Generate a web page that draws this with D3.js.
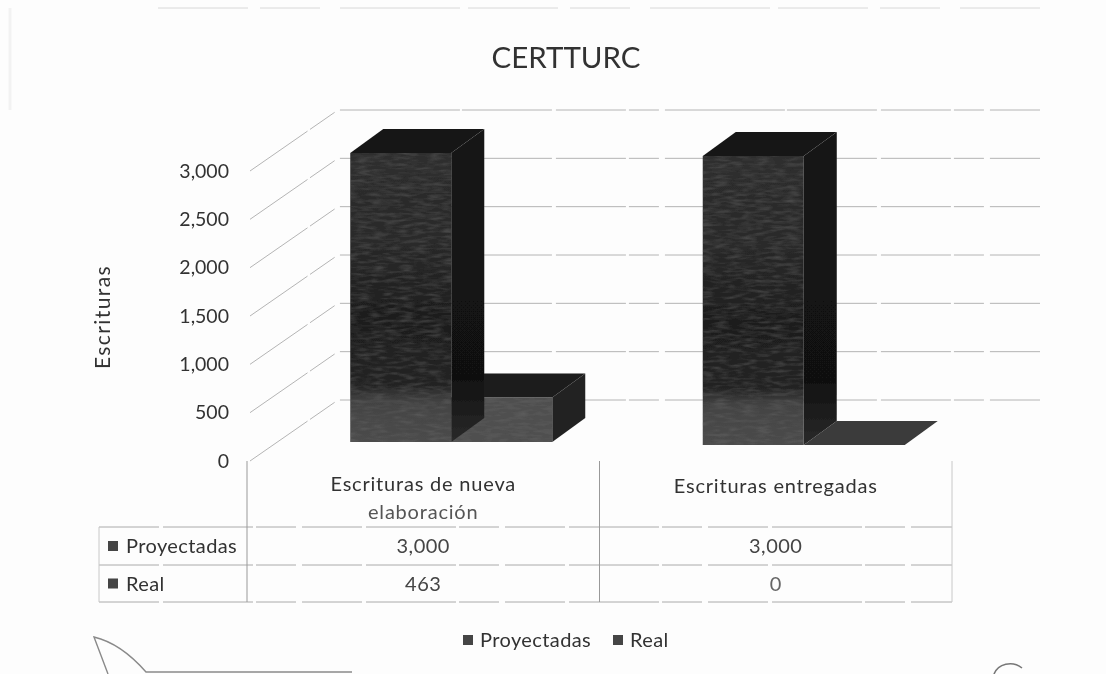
<!DOCTYPE html>
<html>
<head>
<meta charset="utf-8">
<script src="https://cdnjs.cloudflare.com/ajax/libs/d3/7.8.5/d3.min.js"></script>
<style>
body { margin: 0; background: #fdfdfd; }
text { font-family: Lato, "Open Sans", sans-serif; fill: #333; }
</style>
</head>
<body>
<div id="chart"></div>
<script>
const categories = [["Escrituras de nueva", "elaboración"], ["Escrituras entregadas"]];
const series = ["Proyectadas", "Real"];
const proyectadas = [3000, 3000];
const real = [463, 0];
const yTicks = [0, 500, 1000, 1500, 2000, 2500, 3000];

function drawChart() {
    const width = 1106;
    const height = 674;

    const svg = d3.select("#chart")
        .append("svg")
        .attr("width", width)
        .attr("height", height);

    const defs = svg.append("defs");

    // soft scan look
    const blur = defs.append("filter").attr("id", "scan");
    blur.append("feGaussianBlur").attr("stdDeviation", 0.5);

    const grain = defs.append("filter").attr("id", "grain")
        .attr("color-interpolation-filters", "sRGB")
        .attr("x", 0).attr("y", 0).attr("width", 1).attr("height", 1);
    grain.append("feTurbulence")
        .attr("type", "fractalNoise")
        .attr("baseFrequency", "0.07 0.3")
        .attr("numOctaves", 2)
        .attr("seed", 4)
        .attr("result", "n");
    grain.append("feColorMatrix")
        .attr("in", "n")
        .attr("type", "matrix")
        .attr("values", "0 0 0 0 0.42  0 0 0 0 0.42  0 0 0 0 0.42  0.9 0 0 0 -0.36")
        .attr("result", "g");
    grain.append("feComposite")
        .attr("in", "g").attr("in2", "SourceAlpha").attr("operator", "in")
        .attr("result", "gc");
    const merge = grain.append("feMerge");
    merge.append("feMergeNode").attr("in", "SourceGraphic");
    merge.append("feMergeNode").attr("in", "gc");

    const frontGrad = defs.append("linearGradient")
        .attr("id", "frontGrad")
        .attr("x1", 0).attr("y1", 0).attr("x2", 0).attr("y2", 1);
    [[0, "#2e2e2e"], [0.3, "#2a2a2a"], [0.55, "#1e1e1e"], [0.8, "#222"], [0.86, "#434343"], [1, "#4c4c4c"]]
        .forEach(s => frontGrad.append("stop").attr("offset", s[0]).attr("stop-color", s[1]));

    const sideGrad = defs.append("linearGradient")
        .attr("id", "sideGrad")
        .attr("x1", 0).attr("y1", 0).attr("x2", 0).attr("y2", 1);
    [[0, "#141414"], [0.8, "#111"], [1, "#2a2a2a"]]
        .forEach(s => sideGrad.append("stop").attr("offset", s[0]).attr("stop-color", s[1]));

    // Scales
    const y = d3.scaleLinear().domain([0, 3000]).range([461, 171]);
    const x = d3.scaleBand().domain(d3.range(categories.length)).range([247, 952]);
    const barH = d3.scaleLinear().domain([0, 3000]).range([0, 289]);

    const wallDx = 88, wallDy = -61;
    const barDx = 33, barDy = -24;
    const barBase = [442, 445];
    const barW = 101;
    const barShift = 28;

    const plot = svg.append("g").attr("filter", "url(#scan)");

    // Walls and gridlines
    plot.append("g").selectAll("path")
        .data(yTicks)
        .join("path")
        .attr("d", d => {
            const p = d3.path();
            p.moveTo(250, y(d));
            p.lineTo(250 + wallDx, y(d) + wallDy);
            p.lineTo(1040, y(d) + wallDy);
            return p.toString();
        })
        .attr("fill", "none")
        .attr("stroke", "#b4b4b4")
        .attr("stroke-width", 1)
        .attr("stroke-dasharray", "70 3 30 6 120 2 90 4");

    // Axis labels
    plot.append("g").selectAll("text")
        .data(yTicks)
        .join("text")
        .attr("x", 229)
        .attr("y", d => y(d))
        .attr("dy", "0.35em")
        .attr("text-anchor", "end")
        .attr("font-size", 19.5)
        .text(d => d3.format(",")(d));

    plot.append("text")
        .attr("transform", "translate(110,317) rotate(-90)")
        .attr("text-anchor", "middle")
        .attr("font-size", 21)
        .style("letter-spacing", "1.4px")
        .text("Escrituras");

    plot.append("text")
        .attr("x", 566)
        .attr("y", 68)
        .attr("text-anchor", "middle")
        .attr("font-size", 29.5)
        .text("CERTTURC");

    // Bars
    const bars = plot.append("g");

    function cuboid(parent, left, base, h, front, side, top) {
        const poly = pts => pts.map(p => p.join(",")).join(" ");
        const right = left + barW;
        const tp = base - h;
        parent.append("polygon")
            .attr("points", poly([[right, base], [right + barDx, base + barDy], [right + barDx, tp + barDy], [right, tp]]))
            .attr("fill", side);
        parent.append("polygon")
            .attr("points", poly([[left, tp], [left + barDx, tp + barDy], [right + barDx, tp + barDy], [right, tp]]))
            .attr("fill", top);
        if (h > 0) {
            parent.append("rect")
                .attr("x", left).attr("y", tp)
                .attr("width", barW).attr("height", h)
                .attr("fill", front)
                .attr("filter", "url(#grain)");
        }
    }

    categories.forEach((c, i) => {
        const left = x(i) + x.bandwidth() / 2 + barShift - barW;
        const g = bars.append("g");
        // Real sits to the right of Proyectadas, so it goes first
        cuboid(g, left + barW, barBase[i], barH(real[i]), "#4f4f4f", "#232323", real[i] > 0 ? "#1d1d1d" : "#3a3a3a");
        cuboid(g, left, barBase[i], barH(proyectadas[i]), "url(#frontGrad)", "url(#sideGrad)", "#191919");
    });

    // Data table
    const rowY = [527, 565, 602];
    const colX = [99, x(0), x(1), x(1) + x.bandwidth()];
    const table = plot.append("g");

    table.selectAll("line.h")
        .data(rowY)
        .join("line")
        .attr("class", "h")
        .attr("x1", colX[0]).attr("x2", colX[3])
        .attr("y1", d => d).attr("y2", d => d)
        .attr("stroke", "#aaa")
        .attr("stroke-dasharray", "60 4 90 3 40 6");

    table.selectAll("line.v")
        .data(colX)
        .join("line")
        .attr("class", "v")
        .attr("x1", d => d).attr("x2", d => d)
        .attr("y1", (d, i) => i === 0 ? rowY[0] : 461)
        .attr("y2", rowY[2])
        .attr("stroke", (d, i) => (i === 1 || i === 2) ? "#999" : "#c8c8c8");

    categories.forEach((c, i) => {
        const cx = x(i) + x.bandwidth() / 2;
        c.forEach((line, j) => {
            table.append("text")
                .attr("x", cx)
                .attr("y", (c.length > 1 ? 491 : 493) + j * 28)
                .attr("text-anchor", "middle")
                .attr("font-size", 20)
                .style("letter-spacing", "0.8px")
                .style("fill", j ? "#555" : "#333")
                .text(line);
        });
        [proyectadas, real].forEach((vals, r) => {
            table.append("text")
                .attr("x", cx)
                .attr("y", (rowY[r] + rowY[r + 1]) / 2)
                .attr("dy", "0.36em")
                .attr("text-anchor", "middle")
                .attr("font-size", 20)
                .style("letter-spacing", "0.5px")
                .style("fill", vals[i] === 0 ? "#666" : "#444")
                .text(d3.format(",")(vals[i]));
        });
    });

    series.forEach((s, r) => {
        const cy = (rowY[r] + rowY[r + 1]) / 2;
        table.append("rect")
            .attr("x", 108).attr("y", cy - 5)
            .attr("width", 10).attr("height", 10)
            .attr("fill", "#444");
        table.append("text")
            .attr("x", 126).attr("y", cy)
            .attr("dy", "0.36em")
            .attr("font-size", 20)
            .style("letter-spacing", "0.4px")
            .text(s);
    });

    // Legend
    const legendX = d3.scaleOrdinal().domain(series).range([463, 613]);
    const legend = plot.append("g");
    series.forEach(s => {
        legend.append("rect")
            .attr("x", legendX(s)).attr("y", 635)
            .attr("width", 10).attr("height", 10)
            .attr("fill", "#444");
        legend.append("text")
            .attr("x", legendX(s) + 17).attr("y", 640)
            .attr("dy", "0.36em")
            .attr("font-size", 20)
            .style("letter-spacing", "0.4px")
            .text(s);
    });

    // Page marks from the scan: frame edges and pen strokes
    const marks = svg.append("g").attr("fill", "none").attr("filter", "url(#scan)");
    marks.append("path")
        .attr("d", "M158,8H1040")
        .attr("stroke", "#d8d8d8")
        .attr("stroke-dasharray", "90 12 60 20 120 8");
    marks.append("path")
        .attr("d", "M10,8V110")
        .attr("stroke", "#f2f2f2")
        .attr("stroke-width", 3);
    marks.append("path")
        .attr("d", "M108,674L94,637C115,642 132,656 146,672H352")
        .attr("stroke", "#8a8a8a")
        .attr("stroke-width", 1.4);
    marks.append("path")
        .attr("d", "M994,674C998,664 1012,660 1022,668")
        .attr("stroke", "#777")
        .attr("stroke-width", 1.6);
}
drawChart();
</script>
</body>
</html>
